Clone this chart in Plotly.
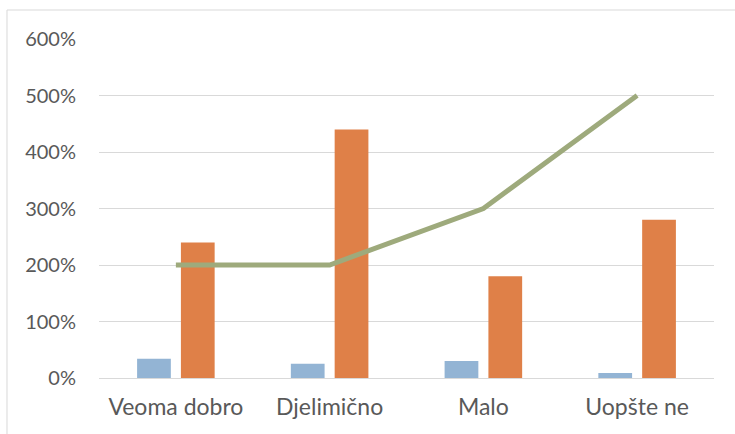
import plotly.graph_objects as go

categories = ["Veoma dobro", "Djelimično", "Malo", "Uopšte ne"]
series_blue = [34, 25, 30, 9]
series_orange = [240, 440, 180, 280]
series_line = [200, 200, 300, 500]
y_ticks = [0, 100, 200, 300, 400, 500, 600]
y_tick_labels = [f"{v}%" for v in y_ticks]

font_family = "Lato, 'Open Sans', sans-serif"
text_color = "#595959"
grid_color = "#D9D9D9"

fig = go.Figure()
fig.add_trace(go.Bar(x=categories, y=series_blue, marker=dict(color="#93B4D4", line=dict(width=0)), name="A"))
fig.add_trace(go.Bar(x=categories, y=series_orange, marker=dict(color="#DF8048", line=dict(width=0)), name="B"))
fig.add_trace(go.Scatter(x=categories, y=series_line, mode="lines",
                         line=dict(color="#9EAA7C", width=5), name="C"))

fig.update_layout(
    width=735, height=434,
    margin=dict(l=99, r=21, t=39, b=56, autoexpand=False),
    paper_bgcolor="white", plot_bgcolor="white",
    showlegend=False,
    barmode="group", bargap=0.43, bargroupgap=0.23,
    font=dict(family=font_family, size=20, color=text_color),
    xaxis=dict(showgrid=False, showline=False, zeroline=False, ticks="", automargin=False,
               ticklabelstandoff=13, tickfont=dict(size=23, color=text_color)),
    yaxis=dict(range=[0, 600], tickvals=y_ticks, ticktext=y_tick_labels, automargin=False,
               showgrid=True, gridcolor=grid_color, gridwidth=1,
               zeroline=True, zerolinecolor=grid_color, zerolinewidth=1,
               showline=False, ticks="", ticklabelstandoff=22,
               tickfont=dict(size=20, color=text_color)),
    shapes=[
        dict(type="line", xref="paper", yref="paper", x0=-0.1496, x1=-0.1496, y0=-0.3, y1=1.0855,
             line=dict(color=grid_color, width=1)),
        dict(type="line", xref="paper", yref="paper", x0=-0.1496, x1=1.1, y0=1.0855, y1=1.0855,
             line=dict(color=grid_color, width=1)),
    ],
)

fig.write_html("out.html", config={"displayModeBar": False},
               post_script="document.body.style.margin='0';document.body.style.overflow='hidden';")
